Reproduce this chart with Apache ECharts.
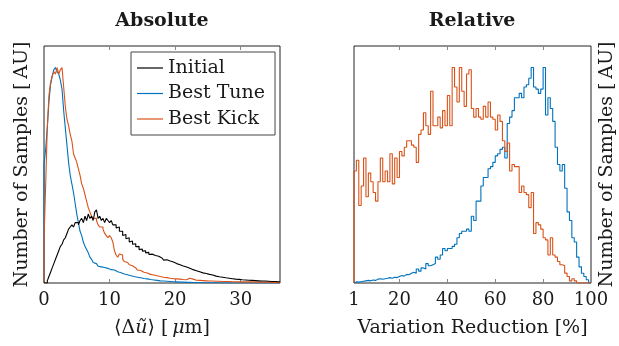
<!DOCTYPE html>
<html><head><meta charset="utf-8">
<script src="https://cdn.jsdelivr.net/npm/echarts@6/dist/echarts.min.js"></script>
<style>html,body{margin:0;padding:0;background:#fff}#c{width:619px;height:346px}</style>
</head><body><div id="c"></div>
<script>
// ---------- data ----------
const absBinStart = 0;
const absBinWidth = 0.25;
const absInitial = [
  0, 0, 0.01, 0.03, 0.05, 0.07, 0.09, 0.11,
  0.13, 0.15, 0.17, 0.18, 0.2, 0.21, 0.23, 0.25,
  0.26, 0.27, 0.26, 0.28, 0.28, 0.27, 0.29, 0.3,
  0.28, 0.31, 0.29, 0.32, 0.3, 0.31, 0.29, 0.33,
  0.34, 0.3, 0.31, 0.29, 0.3, 0.28, 0.3, 0.29,
  0.28, 0.29, 0.27, 0.27, 0.255, 0.26, 0.24, 0.24,
  0.22, 0.225, 0.205, 0.21, 0.19, 0.195, 0.18, 0.182,
  0.168, 0.17, 0.155, 0.158, 0.148, 0.15, 0.14, 0.142,
  0.132, 0.134, 0.126, 0.128, 0.12, 0.124, 0.118, 0.116,
  0.114, 0.106, 0.108, 0.1, 0.102, 0.095, 0.097, 0.09,
  0.09, 0.083, 0.085, 0.077, 0.079, 0.072, 0.074, 0.067,
  0.068, 0.061, 0.062, 0.056, 0.057, 0.051, 0.052, 0.047,
  0.047, 0.043, 0.044, 0.04, 0.04, 0.036, 0.037, 0.033,
  0.032, 0.031, 0.029, 0.028, 0.027, 0.025, 0.024, 0.023,
  0.022, 0.021, 0.02, 0.019, 0.018, 0.017, 0.017, 0.016,
  0.015, 0.015, 0.014, 0.013, 0.013, 0.012, 0.012, 0.011,
  0.011, 0.01, 0.01, 0.01, 0.009, 0.009, 0.009, 0.008,
  0.008, 0.008, 0.007, 0.007, 0.007, 0.006, 0.006, 0.006
];
const absBestTune = [
  0.55, 0.62, 0.72, 0.84, 0.92, 0.96, 0.99, 1.0,
  0.98, 0.97, 0.94, 0.9, 0.8, 0.72, 0.64, 0.56,
  0.5, 0.46, 0.42, 0.37, 0.32, 0.28, 0.24, 0.22,
  0.19, 0.17, 0.155, 0.14, 0.12, 0.11, 0.095, 0.09,
  0.082, 0.078, 0.075, 0.07, 0.072, 0.066, 0.068, 0.064,
  0.062, 0.058, 0.06, 0.053, 0.052, 0.05, 0.048, 0.045,
  0.042, 0.04, 0.038, 0.036, 0.034, 0.032, 0.03, 0.028,
  0.027, 0.025, 0.024, 0.022, 0.021, 0.02, 0.019, 0.017,
  0.016, 0.015, 0.014, 0.013, 0.012, 0.011, 0.01, 0.01,
  0.009, 0.008, 0.008, 0.007, 0.007, 0.006, 0.006, 0.005,
  0.005, 0.005, 0.004, 0.004, 0.004, 0.003, 0.003, 0.003,
  0.003, 0.002, 0.002, 0.002, 0.002, 0.002, 0.002, 0.001,
  0.001, 0.001, 0.001, 0.001, 0.001, 0.001, 0.001, 0.001,
  0.001, 0.001, 0.001, 0.001, 0, 0, 0, 0,
  0, 0, 0, 0, 0, 0, 0, 0,
  0, 0, 0, 0, 0, 0, 0, 0,
  0, 0, 0, 0, 0, 0, 0, 0,
  0, 0, 0, 0, 0, 0, 0, 0
];
const absBestKick = [
  0.2, 0.45, 0.72, 0.87, 0.93, 0.96, 0.98, 0.97,
  1.0, 0.97, 0.99, 1.0, 0.91, 0.82, 0.76, 0.73,
  0.69, 0.66, 0.6, 0.58, 0.56, 0.53, 0.5, 0.46,
  0.44, 0.41, 0.38, 0.35, 0.33, 0.31, 0.3, 0.3,
  0.29, 0.27, 0.26, 0.26, 0.25, 0.23, 0.22, 0.21,
  0.22, 0.21, 0.19, 0.15, 0.13, 0.12, 0.135, 0.13,
  0.11, 0.1, 0.095, 0.09, 0.085, 0.08, 0.072, 0.07,
  0.066, 0.06, 0.058, 0.054, 0.05, 0.046, 0.046, 0.042,
  0.04, 0.038, 0.037, 0.034, 0.034, 0.031, 0.03, 0.028,
  0.027, 0.026, 0.025, 0.024, 0.022, 0.022, 0.02, 0.02,
  0.019, 0.018, 0.018, 0.017, 0.016, 0.016, 0.015, 0.016,
  0.022, 0.026, 0.018, 0.013, 0.013, 0.012, 0.012, 0.011,
  0.011, 0.01, 0.01, 0.01, 0.009, 0.009, 0.009, 0.009,
  0.008, 0.008, 0.008, 0.008, 0.007, 0.007, 0.007, 0.007,
  0.007, 0.006, 0.006, 0.006, 0.006, 0.006, 0.005, 0.005,
  0.005, 0.005, 0.005, 0.005, 0.005, 0.005, 0.005, 0.005,
  0.004, 0.004, 0.004, 0.004, 0.004, 0.004, 0.004, 0.004,
  0.004, 0.004, 0.003, 0.003, 0.003, 0.003, 0.003, 0.003
];
const relBinStart = 1;
const relBinWidth = 1;
const relBestTune = [
  0.005, 0.004, 0.006, 0.008, 0.01, 0.012, 0.01, 0.014, 0.012, 0.018,
  0.02, 0.017, 0.02, 0.022, 0.025, 0.022, 0.027, 0.025, 0.03, 0.035,
  0.032, 0.04, 0.038, 0.045, 0.05, 0.045, 0.065, 0.055, 0.07, 0.065,
  0.09, 0.08, 0.085, 0.09, 0.12, 0.11, 0.13, 0.16, 0.15, 0.16,
  0.16, 0.17, 0.18, 0.21, 0.23, 0.24, 0.24, 0.25, 0.24, 0.31,
  0.29, 0.38, 0.38, 0.45, 0.49, 0.49, 0.53, 0.54, 0.56, 0.59,
  0.60, 0.62, 0.63, 0.58, 0.74, 0.77, 0.80, 0.86, 0.86, 0.88,
  0.86, 0.91, 0.92, 0.95, 1.0, 0.91, 0.90, 0.88, 0.90, 1.0,
  0.78, 0.86, 0.81, 0.75, 0.63, 0.55, 0.52, 0.55, 0.44, 0.33,
  0.29, 0.21, 0.19, 0.12, 0.075, 0.045, 0.03, 0.015, 0
];
const relBestKick = [
  0.52, 0.57, 0.36, 0.45, 0.58, 0.40, 0.51, 0.47, 0.42, 0.38,
  0.47, 0.58, 0.47, 0.52, 0.47, 0.60, 0.46, 0.58, 0.49, 0.61,
  0.59, 0.63, 0.66, 0.66, 0.64, 0.63, 0.56, 0.69, 0.71, 0.79,
  0.73, 0.69, 0.89, 0.73, 0.73, 0.77, 0.72, 0.80, 0.73, 0.87,
  0.73, 1.0, 0.91, 0.84, 1.0, 0.89, 0.82, 0.97, 0.99, 0.81,
  0.77, 0.81, 0.77, 0.76, 0.82, 0.77, 0.84, 0.77, 0.76, 0.71,
  0.78, 0.75, 0.66, 0.61, 0.65, 0.52, 0.55, 0.54, 0.54, 0.42,
  0.45, 0.42, 0.41, 0.35, 0.42, 0.23, 0.28, 0.27, 0.25, 0.21,
  0.20, 0.13, 0.21, 0.13, 0.12, 0.10, 0.085, 0.08, 0.046, 0.03,
  0.01, 0.02, 0.01, 0, 0, 0, 0, 0, 0
];
const absTickLabels = [0, 10, 20, 30];
const relTickLabels = [1, 20, 40, 60, 80, 100];
const seriesNames = ['Initial', 'Best Tune', 'Best Kick'];

// ---------- helpers ----------
function steps(start, width, vals) {
  const d = [[start, 0]];
  vals.forEach((v, i) => d.push([start + i * width, v]));
  d.push([start + vals.length * width, vals[vals.length - 1]]);
  return d;
}
const FONT = '"DejaVu Serif", serif';
const C = { Initial: '#000000', 'Best Tune': '#0072BD', 'Best Kick': '#D95319' };
const txt = { fontFamily: FONT, fontSize: 19, color: '#1a1a1a' };

function xAx(grid, min, max, pos, labels, ticks, name, rich) {
  const o = {
    gridIndex: grid, type: 'value', min: min, max: max, position: pos,
    axisLine: { show: false }, splitLine: { show: false },
    axisTick: { show: true, inside: true, length: 4, customValues: ticks, lineStyle: { color: '#888', width: 1 } },
    axisLabel: { show: pos === 'bottom', customValues: labels, margin: 8, fontFamily: FONT, fontSize: 18, color: '#1a1a1a' }
  };
  if (name) {
    o.name = name; o.nameLocation = 'middle'; o.nameGap = 36;
    o.nameTextStyle = Object.assign({}, txt, rich ? { rich: rich } : {});
  }
  return o;
}
function yAx(grid, pos, gap) {
  return {
    gridIndex: grid, type: 'value', min: 0, max: 1.1, position: pos,
    axisLine: { show: false }, axisTick: { show: false }, axisLabel: { show: false }, splitLine: { show: false },
    name: 'Number of Samples [\u2009AU]', nameLocation: 'middle', nameRotate: 90, nameGap: gap,
    nameTextStyle: txt
  };
}
function ser(name, xi, yi, data) {
  return {
    name: name, type: 'line', xAxisIndex: xi, yAxisIndex: yi, step: 'end',
    data: data, symbol: 'none', showSymbol: false,
    lineStyle: { color: C[name], width: 1.1 }, itemStyle: { color: C[name] }
  };
}

const richAbs = {
  a: { fontFamily: FONT, fontSize: 19, color: '#1a1a1a' },
  b: { fontFamily: FONT, fontSize: 19, color: '#1a1a1a', fontStyle: 'italic' }
};

const option = {
  animation: false,
  backgroundColor: '#fff',
  grid: [
    { left: 44, top: 46, width: 236, height: 237, show: true, borderColor: '#222', borderWidth: 1, backgroundColor: 'transparent' },
    { left: 354, top: 46, width: 237, height: 237, show: true, borderColor: '#222', borderWidth: 1, backgroundColor: 'transparent' }
  ],
  xAxis: [
    xAx(0, 0, 36, 'bottom', absTickLabels, [10, 20, 30], '{a|⟨Δ}{b|ũ}{a|⟩ [\u2009}{b|μ}{a|m]}', richAbs),
    xAx(0, 0, 36, 'top', absTickLabels, [10, 20, 30]),
    xAx(1, 1, 100, 'bottom', relTickLabels, [20, 40, 60, 80], 'Variation Reduction [%]'),
    xAx(1, 1, 100, 'top', relTickLabels, [20, 40, 60, 80])
  ],
  yAxis: [yAx(0, 'left', 12), yAx(1, 'right', 7)],
  legend: {
    data: seriesNames, orient: 'vertical', left: 131, top: 52,
    icon: 'rect', itemWidth: 26, itemHeight: 1.2,
    padding: [6, 10, 6, 6], itemGap: 5.5,
    borderColor: '#444', borderWidth: 1, backgroundColor: '#fff',
    textStyle: { fontFamily: FONT, fontSize: 19, color: '#1a1a1a', lineHeight: 20 }
  },
  graphic: [
    { type: 'text', x: 162, y: 21, style: { text: 'Absolute', align: 'center', verticalAlign: 'middle', font: 'bold 19px "DejaVu Serif"', fill: '#1a1a1a' } },
    { type: 'text', x: 472, y: 21, style: { text: 'Relative', align: 'center', verticalAlign: 'middle', font: 'bold 19px "DejaVu Serif"', fill: '#1a1a1a' } }
  ],
  series: [
    ser('Best Tune', 0, 0, steps(absBinStart, absBinWidth, absBestTune)),
    ser('Best Kick', 0, 0, steps(absBinStart, absBinWidth, absBestKick)),
    ser('Initial', 0, 0, steps(absBinStart, absBinWidth, absInitial)),
    ser('Best Tune', 2, 1, steps(relBinStart, relBinWidth, relBestTune)),
    ser('Best Kick', 2, 1, steps(relBinStart, relBinWidth, relBestKick))
  ]
};
const chart = echarts.init(document.getElementById('c'), null, { renderer: 'canvas' });
chart.setOption(option);
</script></body></html>
